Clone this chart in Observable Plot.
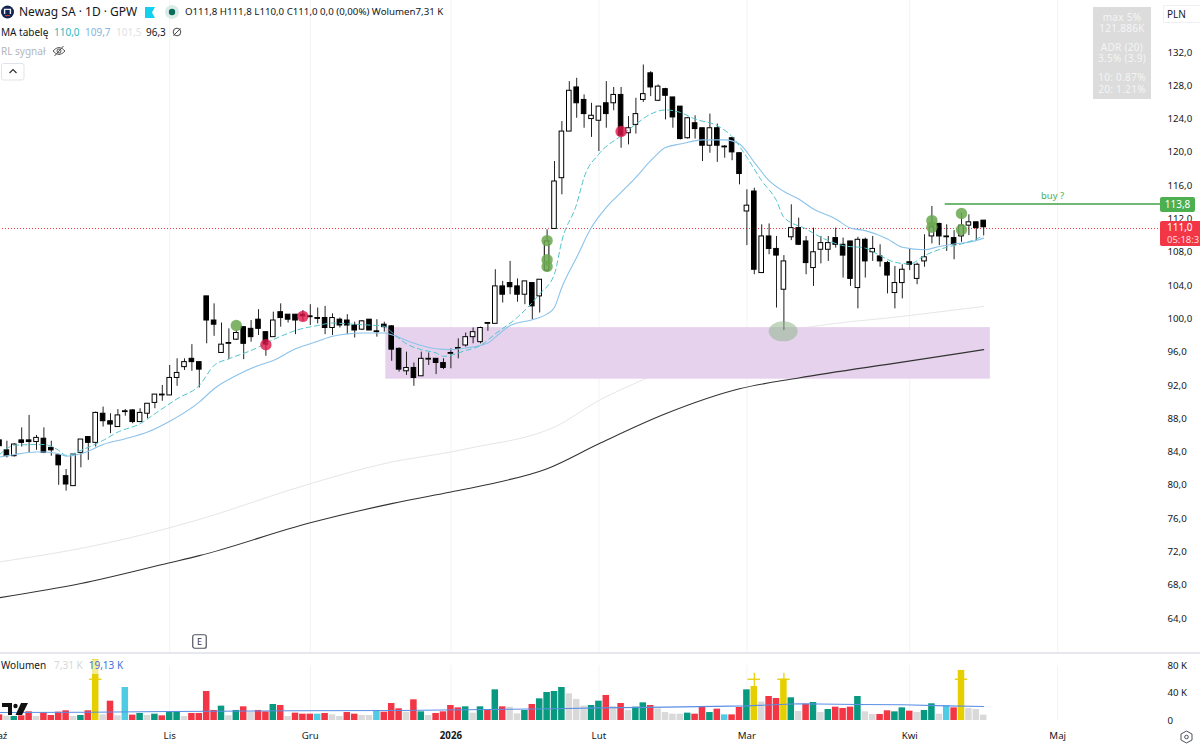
<!DOCTYPE html>
<html lang="pl">
<head>
<meta charset="utf-8">
<title>Newag SA · 1D · GPW</title>
<script src="https://cdn.jsdelivr.net/npm/d3@7"></script>
<script src="https://cdn.jsdelivr.net/npm/@observablehq/plot@0.6"></script>
<style>
html,body{margin:0;padding:0;background:#fff;overflow:hidden}
#chart{position:relative;width:1200px;height:746px;font-family:"Noto Sans",sans-serif;color:#131722;overflow:hidden}
#chart svg{display:block}
.o{position:absolute;white-space:nowrap;line-height:1}
.g{left:1093px;width:58px;text-align:center;font-size:10px;letter-spacing:.3px;color:#f4f4f4}
</style>
</head>
<body>
<div id="chart">
<div id="main"></div>
<div id="vol"></div>

<svg class="o" style="left:1px;top:5px" width="13" height="14" viewBox="0 0 13 14"><circle cx="6.5" cy="7" r="6.5" fill="#14264f"/><path d="M3.6 9V4.4h5.8V9" fill="none" stroke="#e8eef8" stroke-width="1.4"/><path d="M4 10.6h5" stroke="#d84a3a" stroke-width="1"/></svg>
<div class="o" style="left:19px;top:6px;font-size:12px">Newag SA · 1D · GPW</div>
<svg class="o" style="left:145px;top:7px" width="11" height="11" viewBox="0 0 11 11"><path d="M0 0H10L7 5.5 10 11H0Z" fill="#12d0ee"/></svg>
<svg class="o" style="left:165px;top:5px" width="14" height="14" viewBox="0 0 14 14"><circle cx="7" cy="7" r="7" fill="#d8ece8"/><circle cx="7" cy="7" r="3.2" fill="#0c6b58"/></svg>
<div class="o" style="left:185px;top:7px;font-size:9.7px">O111,8 H111,8 L110,0 C111,0 0,0 (0,00%) Wolumen7,31 K</div>
<div class="o" style="left:1px;top:27px;font-size:10px">MA tabelę</div>
<div class="o" style="left:54px;top:27px;font-size:10px;color:#2bb8bd">110,0</div>
<div class="o" style="left:85px;top:27px;font-size:10px;color:#7fb6e2">109,7</div>
<div class="o" style="left:116px;top:27px;font-size:10px;color:#dfe1e4">101,5</div>
<div class="o" style="left:146px;top:27px;font-size:10px">96,3</div>
<svg class="o" style="left:172px;top:27px" width="10" height="10" viewBox="0 0 10 10"><circle cx="5" cy="5" r="3.8" fill="none" stroke="#333" stroke-width=".9"/><path d="M1.5 8.5L8.5 1.5" stroke="#333" stroke-width=".9"/></svg>
<div class="o" style="left:1px;top:46px;font-size:10px;color:#b2b5be">RL sygnał</div>
<svg class="o" style="left:52px;top:45px" width="14" height="12" viewBox="0 0 14 12"><path d="M1 6Q7 -1 13 6Q7 13 1 6Z" fill="none" stroke="#444" stroke-width=".9"/><circle cx="7" cy="6" r="2" fill="none" stroke="#444" stroke-width=".9"/><path d="M2.5 11L11.5 1" stroke="#444" stroke-width=".9"/></svg>
<svg class="o" style="left:1px;top:63px" width="24" height="18" viewBox="0 0 24 18"><rect x=".5" y=".5" width="22.5" height="16.5" rx="2" fill="#fff" stroke="#e0e3eb"/><path d="M8.5 10L12 6.5 15.5 10" fill="none" stroke="#333" stroke-width="1.2"/></svg>

<div class="o" style="left:1093px;top:7px;width:58px;height:92px;background:#dcdcdc"></div>
<div class="o g" style="top:12px">max 5%</div>
<div class="o g" style="top:23px">121.886K</div>
<div class="o g" style="top:42px">ADR (20)</div>
<div class="o g" style="top:53px">3.5% (3.9)</div>
<div class="o g" style="top:72px">10: 0.87%</div>
<div class="o g" style="top:84px">20: 1.21%</div>

<div class="o" style="left:1163px;top:5px;width:37px;height:18px;box-sizing:border-box;border:1px solid #eef0f4;border-right:0;font-size:10px;padding:3px 0 0 3px">PLN</div>
<div class="o" style="left:1160px;top:197px;width:35px;height:15px;background:#4caf50;border-radius:2px;color:#fff;font-size:10px;text-align:center;padding-top:2px;box-sizing:border-box">113,8</div>
<div class="o" style="left:1160px;top:221px;width:40px;height:25px;background:#f23645;border-radius:2px 0 0 2px;color:#fff;font-size:10px;padding:1px 0 0 7px;box-sizing:border-box;overflow:hidden;line-height:11.5px">111,0<br><span style="color:#ffd9dc;font-size:9.5px">05:18:3</span></div>

<svg class="o" style="left:192px;top:634px" width="15" height="15" viewBox="0 0 15 15"><rect x=".75" y=".75" width="13.5" height="13.5" rx="2" fill="#fff" stroke="#50535e" stroke-width="1.2"/></svg>
<div class="o" style="left:192px;top:636.5px;width:15px;text-align:center;font-size:9px;color:#333">E</div>

<div class="o" style="left:1px;top:660px;padding-right:2px;height:14px;background:rgba(255,255,255,.6);font-size:10px">Wolumen<span style="color:#d5d7dc;margin-left:8px">7,31 K</span><span style="color:#3f6fd8;margin-left:6px">19,13 K</span></div>
<svg class="o" style="left:2px;top:702px" width="26" height="14" viewBox="0 0 26 14"><path d="M0 1H10V13H6V5H0Z" fill="#111"/><circle cx="13.5" cy="4" r="2.2" fill="#111"/><path d="M19 1H26L20 13H13.5Z" fill="#111"/></svg>
<svg class="o" style="left:1180px;top:730px" width="13" height="14" viewBox="0 0 13 14"><path d="M6.5 1L12 4V10L6.5 13 1 10V4Z" fill="none" stroke="#50535e" stroke-width="1"/><circle cx="6.5" cy="7" r="1.8" fill="none" stroke="#50535e" stroke-width="1"/></svg>
</div>

<script>
// Candles (PLN); index 0 = first visible session
const opens = [85.4,84.2,83.5,85.4,85.4,85.2,85.6,84.5,83.6,81.1,79.9,83.9,85.8,85.1,88.6,87.7,87.0,88.8,89.0,87.6,
88.6,89.9,90.8,90.8,92.9,94.2,95.2,94.8,102.7,99.8,95.9,97.0,97.5,99.0,98.8,99.9,98.4,97.8,100.8,100.5,
100.5,100.5,100.3,100.1,100.1,98.9,99.9,99.8,99.2,98.7,99.9,98.5,99.3,99.1,96.4,93.7,94.1,93.1,95.1,95.2,
94.7,95.8,96.4,96.8,97.8,97.2,99.4,99.4,103.9,104.3,103.9,102.9,104.3,102.7,105.8,110.8,116.9,122.5,127.8,126.3,
124.0,123.8,125.9,125.9,126.9,122.3,123.3,126.3,129.5,126.2,127.6,126.6,125.5,121.7,123.5,122.9,120.8,122.9,120.6,121.7,
119.9,112.9,115.3,105.5,109.9,108.4,103.5,109.8,110.9,109.3,106.1,108.3,108.3,109.7,108.9,109.3,103.7,109.5,108.0,107.5,
106.7,103.1,104.3,106.8,104.8,106.9,109.9,111.4,109.8,109.7,109.9,111.2,111.6,111.8];
const highs = [85.7,85.3,85.0,86.9,88.4,86.0,86.9,85.3,83.6,81.9,83.8,85.5,85.8,88.8,89.4,88.6,89.1,89.1,89.1,89.2,
89.8,90.9,92.0,94.4,95.2,95.2,96.9,94.8,102.7,101.8,99.5,98.8,98.6,99.0,99.8,101.1,98.4,100.8,101.8,100.5,
100.5,101.0,101.7,101.3,101.5,100.6,100.1,100.5,99.6,99.8,99.9,99.9,99.6,99.2,96.5,96.0,94.7,96.0,95.9,95.2,
95.2,96.4,97.6,98.3,98.9,99.0,99.5,105.9,104.5,106.9,104.8,104.5,104.3,104.7,110.7,118.9,123.7,128.5,128.9,126.9,
125.9,125.5,128.5,127.8,127.8,124.3,126.5,130.5,129.7,128.1,127.7,126.6,125.5,124.2,124.4,122.9,124.6,123.4,120.8,121.8,
119.9,115.5,115.7,111.3,111.4,109.9,107.6,113.7,112.1,109.9,110.9,109.9,109.9,110.9,109.7,109.3,109.8,109.7,109.9,108.9,
106.9,106.3,106.5,108.4,106.7,110.1,113.5,111.5,111.3,110.6,112.7,112.5,111.6,111.8];
const lows = [83.6,83.3,83.4,84.6,83.9,84.2,83.8,83.5,80.0,79.3,79.9,82.1,83.0,84.6,87.0,86.2,87.0,88.3,87.4,87.6,
88.0,89.2,90.1,90.8,91.9,93.8,93.7,91.7,97.0,97.9,95.9,95.1,97.4,95.1,97.2,98.0,95.5,97.8,99.0,99.5,
98.1,99.7,99.2,99.4,98.1,98.0,98.9,98.1,97.7,98.6,98.6,97.8,98.4,94.9,93.6,93.2,91.9,93.1,94.4,93.3,
93.9,94.0,95.2,96.6,97.0,97.0,98.5,99.4,101.9,102.9,102.0,101.7,99.9,100.7,105.6,110.8,114.9,122.5,124.1,122.9,
121.8,120.1,122.9,125.0,120.5,120.9,122.2,126.0,126.7,126.1,123.9,122.9,121.5,121.6,121.6,118.9,119.9,118.8,119.3,119.0,
116.1,108.8,105.3,105.5,107.7,101.3,98.6,109.4,108.8,105.3,103.9,106.6,106.9,108.5,104.9,103.9,101.2,104.9,106.9,106.2,
103.0,101.2,102.4,105.8,104.1,106.2,109.0,108.8,108.1,107.1,109.2,110.0,109.4,110.0];
const closes = [84.7,83.5,84.9,85.1,85.2,85.7,83.9,84.2,82.4,80.1,83.7,85.5,85.1,88.7,87.7,87.3,88.4,88.9,87.6,88.7,
89.8,90.9,90.9,92.9,93.5,94.8,94.8,93.9,99.8,99.3,96.9,97.1,98.3,97.0,97.8,98.8,96.9,99.8,100.1,99.9,
99.8,100.3,100.2,100.0,98.9,100.1,99.2,99.2,98.6,99.7,98.6,98.4,99.0,96.3,93.9,94.1,92.9,95.2,95.2,94.7,
94.1,95.9,96.5,97.8,98.4,98.9,99.5,103.9,102.9,103.8,102.9,104.5,101.5,104.7,109.3,116.5,122.5,127.4,125.9,124.6,
124.4,125.5,124.6,126.9,122.0,122.9,124.6,127.0,127.8,127.9,126.8,124.2,121.6,124.1,122.8,120.8,122.9,120.8,120.7,120.0,
117.4,113.6,105.9,109.9,108.4,107.6,106.9,110.9,108.9,106.7,108.0,109.1,109.1,108.9,107.6,104.8,109.5,106.9,108.4,106.9,
105.2,104.3,105.9,106.5,106.5,107.4,111.0,109.9,109.9,108.9,111.2,111.6,110.9,111.0];

// Moving averages: session index + value
const ma10Idx = [0,2,5,6,8,9,11,14,16,19,21,24,27,29,31,34,38,40,43,45,47,49,52,53,55,57,59,60,63,65,67,70,73,75,76,78,79,81,84,86,88,90,92,94,97,99,101,103,105,106,109,111,114,117,119,121,123,125,128,130,132,133];
const ma10Val = [83.7,84.8,84.9,84.9,84.2,83.6,84.2,85.4,86.4,87.4,88.6,90.4,92.0,94.4,95.2,96.2,97.9,98.6,99.2,99.5,99.4,99.3,99.1,98.4,97.0,96.3,95.9,95.5,96.2,96.8,98.2,100.2,103.0,105.4,109.4,113.8,117.0,119.8,122.0,123.4,124.6,125.1,124.8,124.0,123.2,121.9,119.4,116.6,114.2,112.2,110.8,109.8,108.8,108.5,107.6,106.8,106.6,107.6,108.6,109.0,109.6,110.0];
const ma20Idx = [0,2,5,6,8,9,11,12,14,17,20,23,27,29,32,35,37,40,43,45,47,49,52,53,55,57,59,61,63,66,67,69,72,74,75,76,78,80,82,84,86,88,90,92,95,98,100,102,104,106,108,110,113,115,117,120,122,125,127,129,131,133];
const ma20Val = [83.4,83.7,84.0,84.0,83.8,83.5,83.8,84.1,84.9,85.6,86.4,87.7,90.0,91.6,93.2,94.4,95.0,96.4,97.3,97.9,98.2,98.3,98.3,98.1,97.4,96.8,96.4,96.3,96.5,97.1,97.8,99.2,99.9,100.6,101.4,103.8,107.4,111.0,113.4,115.2,117.0,119.0,120.6,121.0,121.5,121.5,121.0,118.8,116.6,115.3,114.4,113.2,112.0,110.9,110.6,109.6,108.6,108.3,108.7,109.0,109.2,109.7];
const ma100Idx = [0,12,23,27,42,53,61,66,68,75,81,87,95,106,110,122,133];
const ma100Val = [70.8,72.6,74.9,75.9,80.2,82.8,84.0,84.9,85.2,87.0,90.2,92.7,95.9,98.5,99.1,100.3,101.5];
const ma200Idx = [0,11,23,27,42,53,61,66,74,81,90,100,108,122,133];
const ma200Val = [66.5,68.2,70.7,71.55,75.5,77.8,79.2,80.1,82.0,85.0,88.6,91.6,92.9,94.8,96.3];

// Volume in thousands, with the bar class
const volumes = [8.2,6.3,5.8,6.8,12.6,5.8,11.2,7.3,12.1,14.1,5.8,7.3,14.1,88.3,8.2,28.1,6.8,48.0,7.8,10.2,
7.3,9.2,6.8,11.6,13.1,5.8,10.2,10.2,42.2,14.6,20.9,6.8,14.6,19.9,12.1,14.6,12.6,23.3,21.8,5.8,
10.7,9.2,9.2,9.2,10.2,8.2,5.8,11.6,9.2,7.3,7.3,14.6,12.1,24.7,17.0,12.1,30.1,12.6,7.3,10.2,
12.6,21.8,18.4,19.9,10.7,19.9,14.6,44.6,19.9,19.4,9.7,14.6,23.3,31.5,40.7,42.2,48.0,38.8,30.6,20.9,
21.8,28.1,36.4,20.4,24.7,14.6,19.4,25.7,21.8,17.0,11.6,9.2,9.2,10.7,9.2,19.9,11.6,16.5,8.2,8.2,
18.9,44.6,49.5,26.7,34.9,32.0,60.1,33.0,13.1,23.8,26.2,11.6,16.0,19.4,17.5,19.4,34.9,12.6,8.7,8.7,
14.1,12.6,18.4,13.6,11.6,14.6,24.3,9.2,21.3,18.4,72.8,17.5,16.0,7.8];
const volumeKinds = "rngrrnrrrrngrynrncrgngrggnrrrrgngrnrrgrnrrrcrnnrrnncrrrnrgnrrrrgngrgrnngrggggnnnggrnrnggrnnnngrrgrcrrgynrrygnrgngrrrgnnrrggrnggncrynnn";
const volumeColors = {r:"#f23645",g:"#089981",n:"#d9d9d9",y:"#e6cf00",c:"#4fcbe3"};
const volMaIdx = [0,12,23,40,54,75,81,90,101,108,116,122,128,133];
const volMaVal = [11.6,12.0,13.1,14.1,14.6,17.0,18.4,19.4,21.3,24.3,23.3,22.8,21.3,20.4];
const spikeIdx = [13,102,106,130];
const spikeLevel = 60;
const spikeCapIdx = [102,106];
const spikeCapTop = 68.9;

// Axis ticks
const monthIdx = [0,23,42,81,101,123,143];
const monthLabels = ["Paź","Lis","Gru","Lut","Mar","Kwi","Maj"];
const yearIdx = [61];
const yearLabel = "2026";
const priceTicks = [64,68,72,76,80,84,88,92,96,100,104,108,112,116,120,124,128,132];
const volumeTicks = [0,40,80];

// Annotations
const zoneIdx = [52.2,133.9];
const zonePrice = [92.75,98.95];
const buyPrice = 113.8;
const buyIdx = [127.8,158];
const buyLabelAt = {i:142.3,p:114.75,t:"buy ?"};
const lastPrice = 110.85;
const greenIdx = [32,74,74,74,126,126,130,130];
const greenPrice = [99.2,109.4,107.1,106.3,111.8,111.0,112.65,110.7];
const redIdx = [36,41,84];
const redPrice = [96.9,100.3,122.5];
const ovalIdx = [105.9];
const ovalPrice = [98.5];

const candles = opens.map((o,i)=>({i,o,h:highs[i],l:lows[i],c:closes[i]}));
const pts = (xs,ys)=>xs.map((x,k)=>({x,y:ys[k]}));
const gridColor = "#f2f3f6";
const font = '"Noto Sans",sans-serif';
const comma = d=>d.toFixed(1).replace(".",",");
const xScale = {type:"linear",domain:[0,143],range:[-1,1057.2],axis:null};

const main = Plot.plot({
  width:1200,height:652,marginLeft:0,marginTop:0,marginRight:37,marginBottom:0,
  x:xScale,
  y:{domain:[64,132],range:[618,52],axis:null},
  color:{type:"identity"},
  style:{background:"#fff",fontFamily:font,fontSize:"9.7px",color:"#131722"},
  marks:[
    Plot.ruleX(monthIdx.concat(yearIdx),{stroke:gridColor}),
    Plot.line(pts(ma100Idx,ma100Val),{x:"x",y:"y",stroke:"#e6e6e6",strokeWidth:1,curve:"monotone-x"}),
    Plot.rect([0],{x1:()=>zoneIdx[0],x2:()=>zoneIdx[1],y1:()=>zonePrice[0],y2:()=>zonePrice[1],fill:"#e7d2ee"}),
    Plot.ruleY([lastPrice],{stroke:"#f23645",strokeDasharray:"1 2",strokeWidth:1,x1:0,x2:158}),
    Plot.line(pts(ma200Idx,ma200Val),{x:"x",y:"y",stroke:"#333",strokeWidth:1.1,curve:"monotone-x"}),
    Plot.ruleX(candles,{x:"i",y1:"l",y2:"h",stroke:"#222",strokeWidth:1}),
    Plot.rect(candles,{x1:d=>d.i-.31,x2:d=>d.i+.31,y1:"o",y2:"c",fill:d=>d.c>=d.o?"#fff":"#000",stroke:"#000",strokeWidth:1}),
    Plot.line(pts(ma20Idx,ma20Val),{x:"x",y:"y",stroke:"#8cc3ea",strokeWidth:1.1,curve:"monotone-x"}),
    Plot.line(pts(ma10Idx,ma10Val),{x:"x",y:"y",stroke:"#4fc4cc",strokeWidth:1,strokeDasharray:"5 3.5",curve:"monotone-x"}),
    Plot.dot(pts(greenIdx,greenPrice),{x:"x",y:"y",r:5.7,fill:"#6aa84f",fillOpacity:.85}),
    Plot.dot(pts(redIdx,redPrice),{x:"x",y:"y",r:5.7,fill:"#e0184a",fillOpacity:.8}),
    Plot.dot(pts(ovalIdx,ovalPrice),{x:"x",y:"y",r:10,fill:"#8fb58c",fillOpacity:.55,
      render(index,scales,values,dims,ctx,next){
        const g=next(index,scales,values,dims,ctx);
        d3.select(g).selectAll("circle").each(function(){
          const c=d3.select(this),cx=+c.attr("cx"),cy=+c.attr("cy");
          c.attr("transform",`translate(${cx},${cy}) scale(1.45,1) translate(${-cx},${-cy})`);
        });
        return g;
      }}),
    Plot.ruleY([buyPrice],{x1:()=>buyIdx[0],x2:()=>buyIdx[1],stroke:"#43a047",strokeWidth:1.4}),
    Plot.text([buyLabelAt],{x:"i",y:"p",text:"t",fill:"#4caf50",fontSize:9.5}),
    Plot.axisY(priceTicks,{anchor:"right",tickSize:0,tickPadding:4,tickFormat:comma,label:null,fill:"#131722"})
  ]
});
document.getElementById("main").append(main);
main.style.borderBottom="2px solid #e6e8ee";
main.style.boxSizing="content-box";

const vol = Plot.plot({
  width:1200,height:92,marginLeft:0,marginTop:0,marginRight:37,marginBottom:26,
  x:xScale,
  y:{domain:[0,80],range:[66,11],axis:null},
  color:{type:"identity"},
  style:{background:"#fff",fontFamily:font,fontSize:"9.7px",color:"#131722"},
  marks:[
    Plot.ruleX(monthIdx.concat(yearIdx),{stroke:gridColor,y1:0,y2:80}),
    Plot.rect(volumes.map((v,i)=>({i,v,k:volumeKinds[i]})),{x1:d=>d.i-.44,x2:d=>d.i+.44,y1:()=>0,y2:"v",fill:d=>volumeColors[d.k]}),
    Plot.ruleY(spikeIdx,{y:()=>spikeLevel,x1:d=>d-.85,x2:d=>d+.85,stroke:"#e6cf00",strokeWidth:1.3}),
    Plot.ruleX(spikeCapIdx,{y1:()=>spikeLevel-12,y2:()=>spikeCapTop,stroke:"#e6cf00",strokeWidth:1.2}),
    Plot.line(pts(volMaIdx,volMaVal),{x:"x",y:"y",stroke:"#5b8fe6",strokeWidth:1.1}),
    Plot.axisY(volumeTicks,{anchor:"right",tickSize:0,tickPadding:4,tickFormat:d=>d?d+" K":"0",label:null,fill:"#131722"}),
    Plot.axisX(monthIdx,{anchor:"bottom",tickSize:0,tickPadding:12,tickFormat:d=>monthLabels[monthIdx.indexOf(d)],label:null,fill:"#131722"}),
    Plot.axisX(yearIdx,{anchor:"bottom",tickSize:0,tickPadding:12,tickFormat:()=>yearLabel,label:null,fontWeight:"bold",fill:"#131722"})
  ]
});
document.getElementById("vol").append(vol);
</script>
</body>
</html>
